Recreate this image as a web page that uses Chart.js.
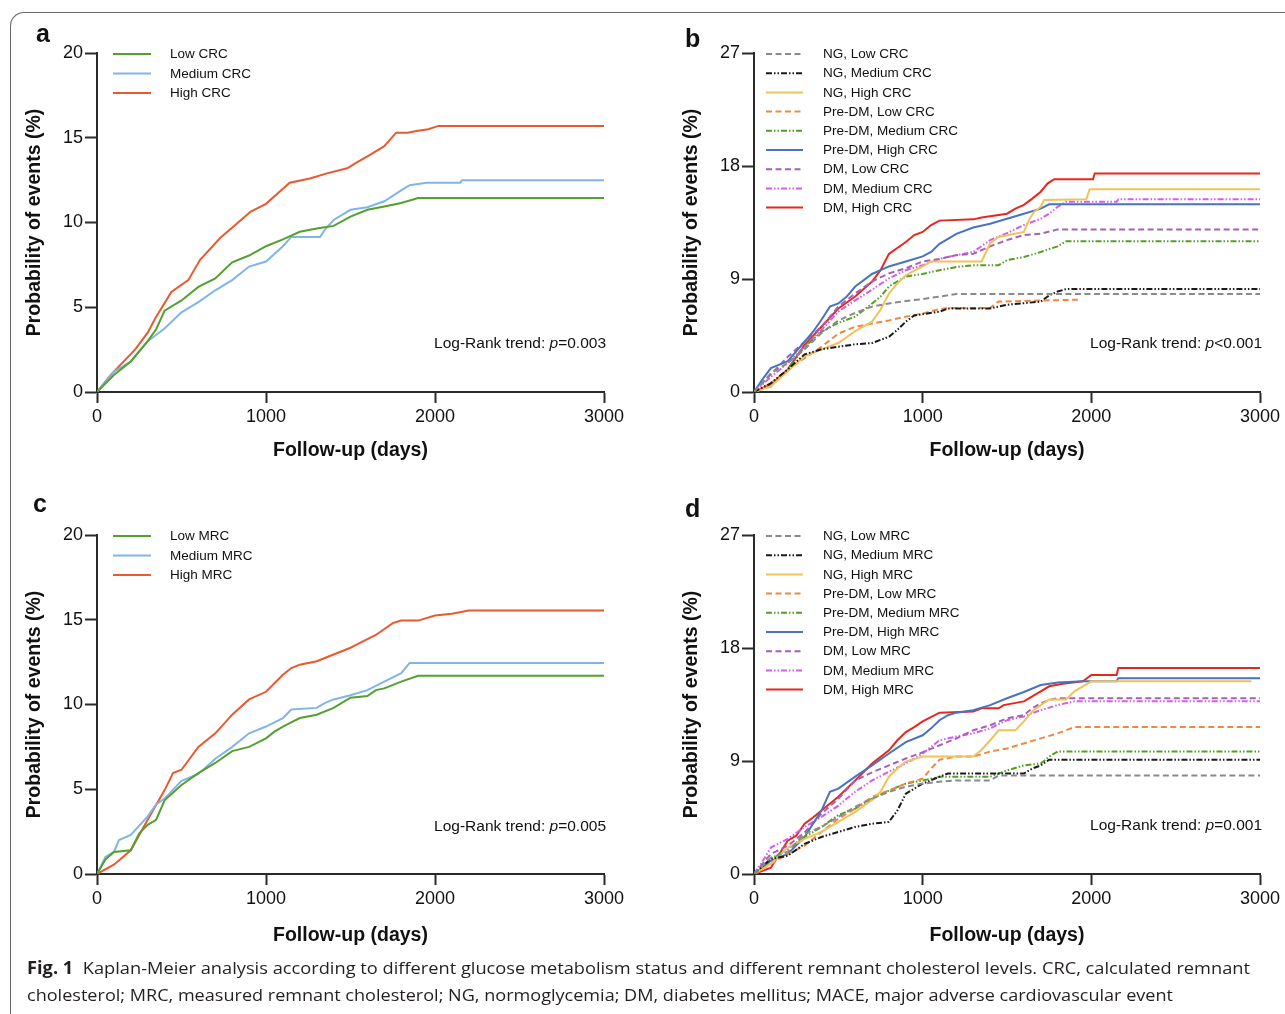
<!DOCTYPE html>
<html><head><meta charset="utf-8">
<script src="https://cdn.jsdelivr.net/npm/chart.js@4.4.1/dist/chart.umd.min.js"></script>
<style>
html,body{margin:0;padding:0;background:#fff;}
body{width:1285px;height:1014px;position:relative;overflow:hidden;font-family:"Liberation Sans",Arial,sans-serif;}
.frame{position:absolute;left:10px;top:12px;width:1320px;height:1040px;border-top:1.5px solid #666;border-left:1.5px solid #666;border-top-left-radius:14px;box-sizing:border-box;}
.cv{position:absolute;}
.letter{position:absolute;font-weight:bold;font-size:25px;line-height:25px;color:#111;}
.lr{position:absolute;font-size:15.5px;line-height:18px;color:#111;white-space:nowrap;}
.cap{position:absolute;left:27px;top:954px;font-family:"Open Sans",sans-serif;font-size:17px;line-height:27px;color:#231f20;white-space:nowrap;}
.cap span{display:inline-block;transform-origin:0 50%;}
</style></head>
<body>
<div class="frame"></div>
<canvas id="ca" class="cv" style="left:0;top:0" width="640" height="480"></canvas>
<canvas id="cb" class="cv" style="left:640px;top:0" width="645" height="480"></canvas>
<canvas id="cc" class="cv" style="left:0;top:480px" width="640" height="480"></canvas>
<canvas id="cd" class="cv" style="left:640px;top:480px" width="645" height="480"></canvas>
<div class="letter" style="left:36px;top:21px">a</div>
<div class="letter" style="left:685px;top:26px">b</div>
<div class="letter" style="left:33px;top:491px">c</div>
<div class="letter" style="left:685px;top:496px">d</div>
<div class="lr" style="right:679px;top:334px">Log-Rank trend: <i>p</i>=0.003</div>
<div class="lr" style="right:23px;top:334px">Log-Rank trend: <i>p</i>&lt;0.001</div>
<div class="lr" style="right:679px;top:817px">Log-Rank trend: <i>p</i>=0.005</div>
<div class="lr" style="right:23px;top:816px">Log-Rank trend: <i>p</i>=0.001</div>
<div class="cap"><span id="l1"><b>Fig. 1</b>&nbsp; Kaplan-Meier analysis according to different glucose metabolism status and different remnant cholesterol levels. CRC, calculated remnant</span><br><span id="l2">cholesterol; MRC, measured remnant cholesterol; NG, normoglycemia; DM, diabetes mellitus; MACE, major adverse cardiovascular event</span></div>
<script>
// ---- tick labels ----
const xTickVals = [0, 1000, 2000, 3000];
const yTicksAC = [0, 5, 10, 15, 20];
const yTicksBD = [0, 9, 18, 27];

// ---- panel a: CRC tertiles, [day, %] ----
const aLabels = ['Low CRC', 'Medium CRC', 'High CRC'];
const aLow = [[0,0],[100,1.0],[200,1.8],[300,3.0],[350,3.7],[400,4.8],[500,5.4],[600,6.2],[700,6.7],[800,7.65],[900,8.05],[1000,8.6],[1100,9.0],[1200,9.45],[1300,9.65],[1400,9.8],[1500,10.35],[1600,10.75],[1700,10.95],[1800,11.15],[1900,11.45],[3000,11.45]];
const aMed = [[0,0],[100,1.2],[200,1.8],[300,3.0],[400,3.75],[500,4.7],[600,5.3],[700,6.0],[800,6.6],[900,7.4],[1000,7.7],[1100,8.6],[1150,9.15],[1320,9.15],[1350,9.6],[1400,10.15],[1500,10.75],[1600,10.9],[1700,11.25],[1800,11.9],[1850,12.2],[1950,12.35],[2150,12.35],[2160,12.5],[3000,12.5]];
const aHigh = [[0,0],[80,1.0],[225,2.5],[300,3.5],[345,4.35],[440,5.9],[540,6.6],[610,7.8],[730,9.1],[830,9.96],[910,10.65],[1000,11.1],[1090,11.9],[1140,12.35],[1260,12.6],[1360,12.9],[1480,13.2],[1530,13.5],[1600,13.9],[1700,14.5],[1770,15.3],[1840,15.3],[1890,15.4],[1960,15.5],[2020,15.7],[3000,15.7]];

// ---- panel c: MRC tertiles ----
const cLabels = ['Low MRC', 'Medium MRC', 'High MRC'];
const cLow = [[0,0],[50,0.85],[100,1.3],[200,1.4],[250,2.4],[300,2.9],[350,3.2],[400,4.35],[500,5.25],[600,5.95],[700,6.55],[800,7.25],[900,7.5],[1000,8.0],[1050,8.4],[1100,8.7],[1200,9.2],[1300,9.4],[1400,9.8],[1500,10.4],[1600,10.5],[1650,10.85],[1700,10.95],[1800,11.35],[1900,11.7],[3000,11.7]];
const cMed = [[0,0],[50,1.0],[100,1.3],[130,2.0],[200,2.3],[300,3.4],[350,4.1],[400,4.45],[500,5.5],[600,5.9],[700,6.8],[800,7.5],[900,8.3],[1000,8.7],[1100,9.2],[1150,9.7],[1300,9.8],[1350,10.1],[1400,10.3],[1500,10.55],[1600,10.85],[1700,11.35],[1800,11.85],[1850,12.45],[3000,12.45]];
const cHigh = [[0,0],[100,0.55],[200,1.4],[300,3.2],[400,4.95],[450,5.95],[500,6.15],[600,7.5],[700,8.3],[800,9.4],[900,10.3],[1000,10.75],[1100,11.75],[1150,12.15],[1200,12.35],[1300,12.55],[1400,12.95],[1500,13.35],[1550,13.6],[1650,14.1],[1750,14.8],[1800,14.95],[1900,14.95],[2000,15.25],[2100,15.35],[2200,15.55],[3000,15.55]];

// ---- panel b: glucose status x CRC ----
const bLabels = ['NG, Low CRC','NG, Medium CRC','NG, High CRC','Pre-DM, Low CRC','Pre-DM, Medium CRC','Pre-DM, High CRC','DM, Low CRC','DM, Medium CRC','DM, High CRC'];
const bNgLow = [[0,0],[100,1.5],[200,2.3],[300,3.4],[400,4.7],[500,5.7],[600,6.3],[700,6.8],[800,7.05],[900,7.25],[1000,7.4],[1100,7.6],[1200,7.8],[3000,7.8]];
const bNgMed = [[0,0],[100,0.7],[200,1.8],[300,3.0],[400,3.4],[500,3.6],[600,3.8],[700,3.9],[800,4.4],[850,4.95],[900,5.6],[950,6.1],[1000,6.2],[1100,6.4],[1150,6.65],[1400,6.65],[1500,6.95],[1700,7.2],[1750,7.7],[1800,8.0],[1850,8.2],[3000,8.2]];
const bNgHigh = [[0,0],[100,0.45],[200,1.65],[300,2.85],[400,3.4],[500,3.9],[600,4.85],[700,5.6],[750,6.55],[800,7.85],[850,8.65],[900,9.3],[1000,10.0],[1050,10.4],[1350,10.4],[1400,11.85],[1450,12.35],[1600,12.75],[1630,13.7],[1660,14.35],[1700,14.75],[1720,15.3],[1970,15.35],[1990,16.15],[3000,16.15]];
const bPreLow = [[0,0],[100,0.7],[200,1.8],[300,2.7],[400,3.6],[500,4.65],[600,5.2],[700,5.45],[800,5.7],[900,6.0],[1000,6.25],[1100,6.6],[1150,6.7],[1400,6.7],[1450,7.2],[1600,7.25],[1920,7.35]];
const bPreMed = [[0,0],[100,0.45],[200,1.8],[300,3.6],[400,4.8],[500,5.5],[600,6.0],[700,7.05],[750,7.6],[800,8.4],[900,9.2],[1000,9.4],[1100,9.7],[1200,9.95],[1300,10.1],[1450,10.1],[1500,10.5],[1600,10.75],[1700,11.15],[1800,11.6],[1850,12.0],[3000,12.0]];
const bPreHigh = [[0,0],[50,1.0],[100,1.9],[200,2.45],[300,4.0],[350,4.8],[400,5.75],[450,6.8],[500,7.05],[550,7.6],[600,8.4],[700,9.4],[800,10.0],[900,10.4],[1000,10.8],[1050,11.15],[1100,11.8],[1200,12.6],[1300,13.1],[1400,13.4],[1500,13.8],[1600,14.2],[1700,14.6],[1750,14.95],[3000,14.95]];
const bDmLow = [[0,0],[100,1.4],[200,2.8],[300,4.0],[400,5.2],[500,6.8],[600,7.85],[700,8.8],[800,9.45],[900,9.85],[1000,10.4],[1100,10.6],[1200,10.9],[1300,11.0],[1400,11.6],[1500,12.1],[1600,12.5],[1700,12.6],[1800,12.95],[3000,12.95]];
const bDmMed = [[0,0],[100,1.2],[200,2.3],[300,3.6],[400,4.95],[500,6.4],[600,7.3],[700,8.15],[800,9.05],[900,9.7],[1000,10.1],[1100,10.6],[1200,10.9],[1300,11.15],[1400,12.1],[1500,12.65],[1600,13.3],[1700,13.8],[1750,14.2],[1800,14.75],[1850,15.15],[2150,15.15],[2160,15.35],[3000,15.35]];
const bDmHigh = [[0,0],[100,0.6],[200,1.8],[300,3.75],[400,5.2],[500,6.65],[600,7.6],[700,8.8],[750,9.7],[800,11.0],[900,11.95],[950,12.5],[1000,12.75],[1050,13.3],[1100,13.65],[1300,13.75],[1350,13.9],[1500,14.2],[1550,14.6],[1600,14.9],[1650,15.4],[1700,15.95],[1740,16.6],[1780,16.95],[2010,16.95],[2020,17.4],[3000,17.4]];

// ---- panel d: glucose status x MRC ----
const dLabels = ['NG, Low MRC','NG, Medium MRC','NG, High MRC','Pre-DM, Low MRC','Pre-DM, Medium MRC','Pre-DM, High MRC','DM, Low MRC','DM, Medium MRC','DM, High MRC'];
const dNgLow = [[0,0],[100,1.3],[200,1.75],[300,3.2],[400,3.75],[500,4.55],[600,5.35],[700,6.0],[800,6.55],[900,6.95],[1000,7.2],[1100,7.35],[1200,7.45],[1400,7.45],[1450,7.85],[3000,7.85]];
const dNgMed = [[0,0],[100,1.2],[200,1.45],[300,2.4],[400,2.95],[500,3.35],[600,3.75],[700,4.0],[800,4.15],[850,5.05],[900,6.4],[1000,7.2],[1100,7.75],[1150,8.0],[1600,8.0],[1650,8.4],[1700,8.65],[1750,9.1],[3000,9.1]];
const dNgHigh = [[0,0],[100,0.8],[200,2.1],[300,2.8],[400,3.35],[500,4.15],[600,4.95],[700,5.9],[750,6.55],[800,7.75],[850,8.4],[900,8.95],[1000,9.35],[1300,9.35],[1350,9.9],[1400,10.65],[1450,11.45],[1550,11.45],[1600,12.15],[1650,12.95],[1700,13.45],[1750,13.9],[1850,13.9],[1900,14.55],[1950,14.95],[2000,15.35],[2950,15.35]];
const dPreLow = [[0,0],[100,0.8],[200,1.6],[300,2.25],[400,3.35],[500,4.4],[600,5.2],[700,6.15],[800,6.65],[900,7.2],[1000,7.6],[1050,8.4],[1100,9.1],[1200,9.35],[1300,9.35],[1400,9.75],[1500,10.0],[1600,10.4],[1700,10.8],[1800,11.2],[1900,11.7],[3000,11.7]];
const dPreMed = [[0,0],[100,1.2],[200,2.0],[300,2.95],[400,3.75],[500,4.7],[600,5.2],[700,6.0],[800,6.65],[900,7.2],[1000,7.45],[1100,7.75],[1400,7.75],[1450,8.0],[1500,8.25],[1600,8.65],[1700,8.8],[1750,9.35],[1800,9.75],[3000,9.75]];
const dPreHigh = [[0,0],[50,0.5],[100,1.05],[200,1.6],[300,2.95],[350,4.0],[400,5.05],[450,6.55],[500,6.8],[600,7.75],[700,8.65],[800,9.6],[900,10.5],[1000,11.05],[1050,11.6],[1100,12.25],[1150,12.65],[1200,12.85],[1300,13.05],[1400,13.45],[1500,14.0],[1600,14.5],[1700,15.05],[1800,15.25],[1950,15.35],[2150,15.35],[2160,15.6],[3000,15.6]];
const dDmLow = [[0,0],[100,1.6],[200,2.25],[300,3.3],[400,4.8],[500,6.0],[600,7.45],[700,8.1],[800,8.65],[900,9.2],[1000,9.7],[1100,10.25],[1200,10.8],[1300,11.45],[1400,11.85],[1500,12.4],[1600,12.65],[1650,13.2],[1700,13.6],[1750,13.85],[1800,14.0],[3000,14.0]];
const dDmMed = [[0,0],[50,1.0],[100,2.1],[200,2.8],[300,3.75],[400,4.55],[500,5.45],[600,6.55],[700,7.45],[800,8.15],[900,8.8],[1000,9.6],[1100,10.65],[1200,10.95],[1300,11.2],[1400,11.6],[1500,12.25],[1600,12.55],[1700,13.05],[1800,13.45],[1900,13.75],[3000,13.75]];
const dDmHigh = [[0,0],[100,0.5],[150,1.6],[200,2.65],[250,3.05],[300,4.0],[350,4.5],[400,5.05],[500,6.15],[600,7.45],[700,8.8],[800,9.85],[850,10.65],[900,11.3],[950,11.7],[1000,12.15],[1100,12.85],[1300,12.95],[1350,13.2],[1450,13.2],[1480,13.45],[1600,13.75],[1650,14.15],[1700,14.55],[1750,14.95],[1830,15.15],[1950,15.35],[2000,15.85],[2150,15.85],[2160,16.4],[3000,16.4]];

// ---- styles ----
const DASH = [6, 3.5];
const DDD = [6, 2, 1.5, 2, 1.5, 2];
const tertStyles = [
  {c:'#54a02e', d:[]}, {c:'#80b5e6', d:[]}, {c:'#e9592f', d:[]}
];
const groupStyles = [
  {c:'#8a8a8a', d:DASH}, {c:'#1a1a1a', d:DDD}, {c:'#f0c25a', d:[]},
  {c:'#ec8a45', d:DASH}, {c:'#52a024', d:DDD}, {c:'#4a72c0', d:[]},
  {c:'#a760b8', d:DASH}, {c:'#d35cf2', d:DDD}, {c:'#e5281e', d:[]}
];

const legendPlugin = {
  id: 'kmLegend',
  afterDraw(chart, args, o) {
    const ctx = chart.ctx;
    chart.data.datasets.forEach((ds, i) => {
      const y = o.y0 + i * o.dy;
      ctx.save();
      ctx.strokeStyle = ds.borderColor;
      ctx.lineWidth = 2;
      ctx.setLineDash(ds.borderDash || []);
      ctx.beginPath(); ctx.moveTo(o.x0, y); ctx.lineTo(o.x1, y); ctx.stroke();
      ctx.setLineDash([]);
      ctx.fillStyle = '#111';
      ctx.font = '13.5px "Liberation Sans", Arial, sans-serif';
      ctx.textBaseline = 'middle';
      ctx.fillText(ds.label, o.xt, y + 0.5);
      ctx.restore();
    });
  }
};

function makePanel(id, labels, series, styles, yTicks, yMax, L) {
  const datasets = series.map((s, i) => ({
    label: labels[i],
    data: s.map(p => ({x: p[0], y: p[1]})),
    borderColor: styles[i].c,
    borderDash: styles[i].d,
    borderWidth: 2,
    pointRadius: 0,
    fill: false,
    tension: 0
  }));
  const axisFont = {family: '"Liberation Sans", Arial, sans-serif', size: 18};
  const titleFont = {family: '"Liberation Sans", Arial, sans-serif', size: 19.5, weight: 'bold'};
  new Chart(document.getElementById(id), {
    type: 'line',
    data: {datasets},
    plugins: [legendPlugin],
    options: {
      responsive: false, animation: false,
      layout: {padding: {left: 0, top: L.top, right: L.right, bottom: 0}},
      plugins: {legend: {display: false}, tooltip: {enabled: false},
        kmLegend: L.legend},
      scales: {
        x: {
          type: 'linear', min: 0, max: 3000,
          afterBuildTicks: s => { s.ticks = xTickVals.map(v => ({value: v})); },
          ticks: {font: axisFont, color: '#111', padding: 3, maxRotation: 0, autoSkip: false, callback: v => String(v)},
          grid: {drawOnChartArea: false, drawTicks: true, tickLength: 11, tickWidth: 2, color: '#2a2a2a'},
          border: {display: true, width: 2, color: '#2a2a2a'},
          title: {display: true, text: 'Follow-up (days)', font: titleFont, color: '#111', padding: {top: 0, bottom: L.xtPad}},
          afterFit: s => { s.height = L.xH; }
        },
        y: {
          type: 'linear', min: 0, max: yMax,
          afterBuildTicks: s => { s.ticks = yTicks.map(v => ({value: v})); },
          ticks: {font: axisFont, color: '#111', padding: 2, autoSkip: false, callback: v => String(v)},
          grid: {drawOnChartArea: false, drawTicks: true, tickLength: 12, tickWidth: 2, color: '#2a2a2a'},
          border: {display: true, width: 2, color: '#2a2a2a'},
          title: {display: true, text: 'Probability of events (%)', font: titleFont, color: '#111', padding: {top: L.ytPad, bottom: 0}},
          afterFit: s => { s.width = L.yW; }
        }
      }
    }
  });
}

makePanel('ca', aLabels, [aLow, aMed, aHigh], tertStyles, yTicksAC, 20,
  {top: 53, right: 36, xH: 88, yW: 97, xtPad: 17.3, ytPad: 23.3,
   legend: {x0: 113, x1: 151, xt: 170, y0: 54, dy: 19.5}});
makePanel('cb', bLabels, [bNgLow, bNgMed, bNgHigh, bPreLow, bPreMed, bPreHigh, bDmLow, bDmMed, bDmHigh], groupStyles, yTicksBD, 27,
  {top: 53, right: 25, xH: 88, yW: 114, xtPad: 17.3, ytPad: 40.3,
   legend: {x0: 126, x1: 163, xt: 183, y0: 54, dy: 19.2}});
makePanel('cc', cLabels, [cLow, cMed, cHigh], tertStyles, yTicksAC, 20,
  {top: 55, right: 36, xH: 86, yW: 97, xtPad: 12.3, ytPad: 23.3,
   legend: {x0: 113, x1: 151, xt: 170, y0: 56, dy: 19.5}});
makePanel('cd', dLabels, [dNgLow, dNgMed, dNgHigh, dPreLow, dPreMed, dPreHigh, dDmLow, dDmMed, dDmHigh], groupStyles, yTicksBD, 27,
  {top: 55, right: 25, xH: 86, yW: 114, xtPad: 12.3, ytPad: 40.3,
   legend: {x0: 126, x1: 163, xt: 183, y0: 56, dy: 19.2}});

// fit caption lines to the reference widths
function fit(id, w) {
  const el = document.getElementById(id);
  const cur = el.getBoundingClientRect().width;
  el.style.transform = 'scaleX(' + (w / cur) + ')';
}
fit('l1', 1223);
fit('l2', 1146);
</script>
</body></html>
